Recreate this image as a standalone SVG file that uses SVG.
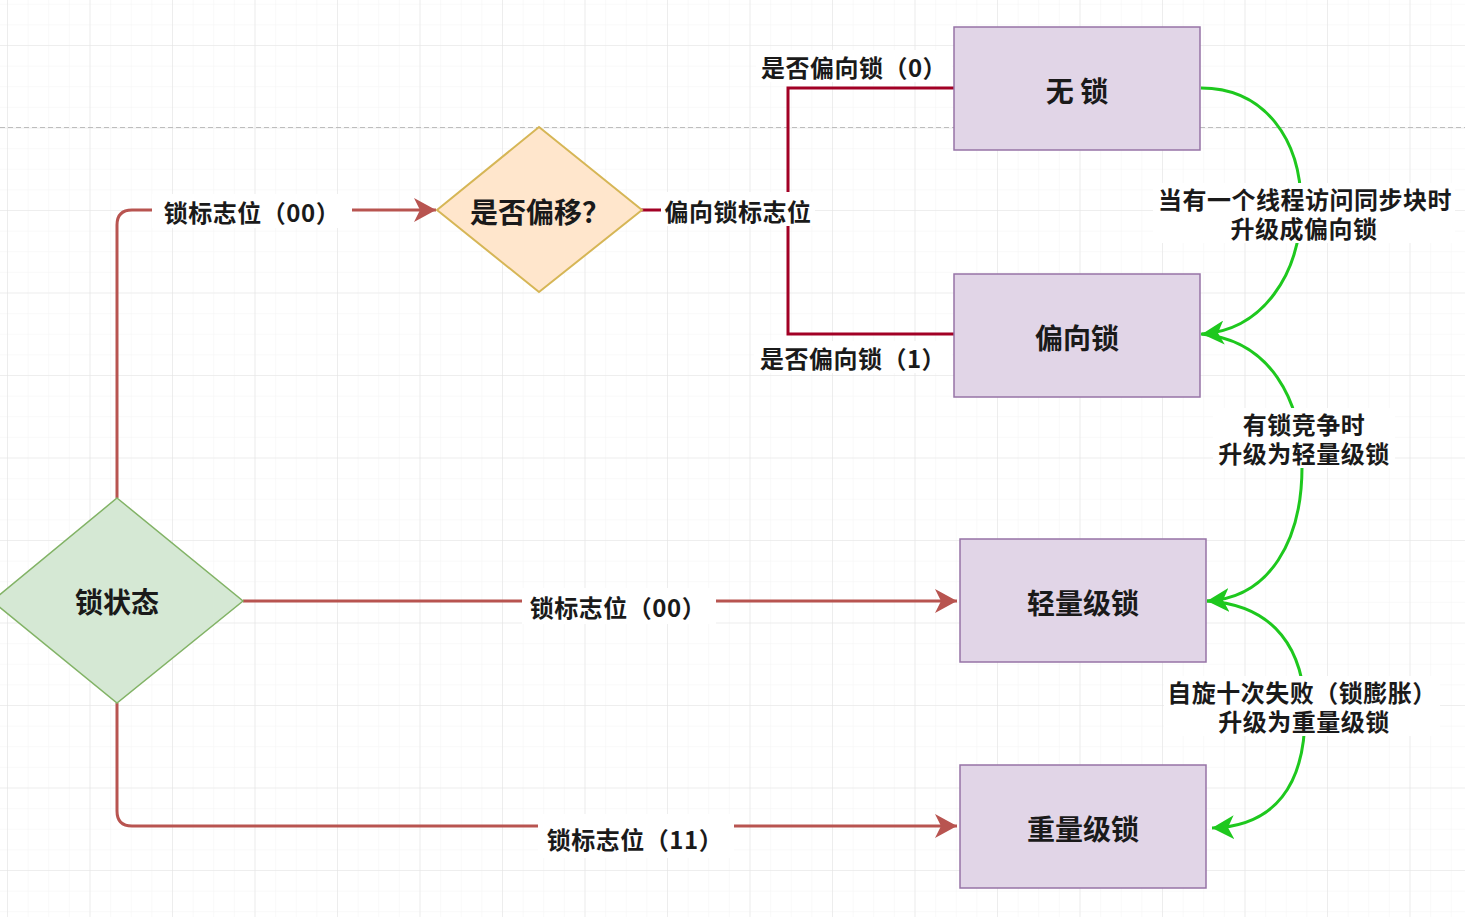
<svg xmlns="http://www.w3.org/2000/svg" width="1465" height="917" viewBox="0 0 1465 917">
<style>
  text { font-family: "Noto Sans CJK SC", "Noto Sans", sans-serif; fill: #1a1a1a; text-anchor: middle; dominant-baseline: central; }
  .node { font-size: 28px; font-weight: bold; }
  .lbl { font-size: 24px; font-weight: bold; letter-spacing: 0.5px; }
  .proc { fill: #e1d5e7; stroke: #9673a6; stroke-width: 1.5; }
  .red { fill: none; stroke: #b85450; stroke-width: 3; }
  .crim { fill: none; stroke: #a20025; stroke-width: 3; }
  .grn { fill: none; stroke: #1ec81e; stroke-width: 3; }
  .bg { fill: #ffffff; }
</style>
<defs>
  <pattern id="minor" x="7" y="45" width="20.625" height="20.625" patternUnits="userSpaceOnUse">
    <path d="M0,0 L20.625,0 M0,0 L0,20.625" stroke="#f4f4f4" stroke-width="1" fill="none"/>
  </pattern>
  <pattern id="major" x="7" y="45" width="82.5" height="82.5" patternUnits="userSpaceOnUse">
    <path d="M0,0 L82.5,0 M0,0 L0,82.5" stroke="#e4e4e4" stroke-width="1.2" fill="none"/>
  </pattern>
  <marker id="arrRed" viewBox="0 0 22 24" refX="22" refY="12" markerWidth="22" markerHeight="24" markerUnits="userSpaceOnUse" orient="auto">
    <path d="M0,0 L22,12 L0,24 L6,12 Z" fill="#b85450"/>
  </marker>
  <marker id="arrGrn" viewBox="0 0 22 24" refX="22" refY="12" markerWidth="22" markerHeight="24" markerUnits="userSpaceOnUse" orient="auto">
    <path d="M0,0 L22,12 L0,24 L6,12 Z" fill="#1ec81e"/>
  </marker>
</defs>
<rect width="1465" height="917" fill="#ffffff"/>
<rect width="1465" height="917" fill="url(#minor)"/>
<rect width="1465" height="917" fill="url(#major)"/>
<line x1="0" y1="127.5" x2="1465" y2="127.5" stroke="#bdbdbd" stroke-width="1.2" stroke-dasharray="5,3"/>

<g id="connectors">
  <path class="red" d="M117,498 L117,225 Q117,210 132,210 L436,210" marker-end="url(#arrRed)"/>
  <path class="red" d="M243,601 L957,601" marker-end="url(#arrRed)"/>
  <path class="red" d="M117,703 L117,811 Q117,826 132,826 L957,826" marker-end="url(#arrRed)"/>
  <path class="crim" d="M641,210 L788,210 L788,88 L954,88 M788,210 L788,334 L954,334"/>
  <path class="grn" d="M1201,88 C1265,88 1301,140 1301,205 C1301,275 1262,330 1202,334" marker-end="url(#arrGrn)"/>
  <path class="grn" d="M1201,334 C1270,340 1302,400 1302,467 C1302,540 1270,598 1207,601" marker-end="url(#arrGrn)"/>
  <path class="grn" d="M1207,601 C1275,605 1305,650 1305,714 C1305,785 1275,826 1212,828" marker-end="url(#arrGrn)"/>

  <rect class="bg" x="152" y="194" width="200" height="34"/>
  <text class="lbl" x="252" y="211">锁标志位（00）</text>
  <rect class="bg" x="522" y="588" width="194" height="36"/>
  <text class="lbl" x="618" y="606">锁标志位（00）</text>
  <rect class="bg" x="538" y="814" width="196" height="44"/>
  <text class="lbl" x="635" y="838">锁标志位（11）</text>
  <rect class="bg" x="661" y="192" width="154" height="34"/>
  <text class="lbl" x="738" y="210">偏向锁标志位</text>
  <rect class="bg" x="756" y="50" width="196" height="32"/>
  <text class="lbl" x="854" y="66">是否偏向锁（0）</text>
  <rect class="bg" x="754" y="341" width="198" height="32"/>
  <text class="lbl" x="853" y="357">是否偏向锁（1）</text>

  <rect class="bg" x="1153" y="183" width="302" height="60"/>
  <text class="lbl"><tspan x="1305" y="198">当有一个线程访问同步块时</tspan><tspan x="1304" y="227">升级成偏向锁</tspan></text>
  <rect class="bg" x="1213" y="408" width="182" height="60"/>
  <text class="lbl"><tspan x="1304" y="423">有锁竞争时</tspan><tspan x="1304" y="452">升级为轻量级锁</tspan></text>
  <rect class="bg" x="1164" y="676" width="276" height="60"/>
  <text class="lbl"><tspan x="1302" y="691">自旋十次失败（锁膨胀）</tspan><tspan x="1304" y="720">升级为重量级锁</tspan></text>
</g>

<g id="node-lockstate">
  <polygon points="117,498 243,601 117,703 -8,601" fill="#d5e8d4" stroke="#82b366" stroke-width="1.5"/>
  <text class="node" x="117" y="601">锁状态</text>
</g>
<g id="node-biased-check">
  <polygon points="539,127 642,210 539,292 437,210" fill="#ffe6cc" stroke="#d6b656" stroke-width="2"/>
  <text class="node" x="540" y="211">是否偏移？</text>
</g>
<g id="node-nolock">
  <rect class="proc" x="954" y="27" width="246" height="123"/>
  <text class="node" x="1077" y="90">无 锁</text>
</g>
<g id="node-biased">
  <rect class="proc" x="954" y="274" width="246" height="123"/>
  <text class="node" x="1077" y="337">偏向锁</text>
</g>
<g id="node-lightweight">
  <rect class="proc" x="960" y="539" width="246" height="123"/>
  <text class="node" x="1083" y="602">轻量级锁</text>
</g>
<g id="node-heavyweight">
  <rect class="proc" x="960" y="765" width="246" height="123"/>
  <text class="node" x="1083" y="828">重量级锁</text>
</g>
</svg>
